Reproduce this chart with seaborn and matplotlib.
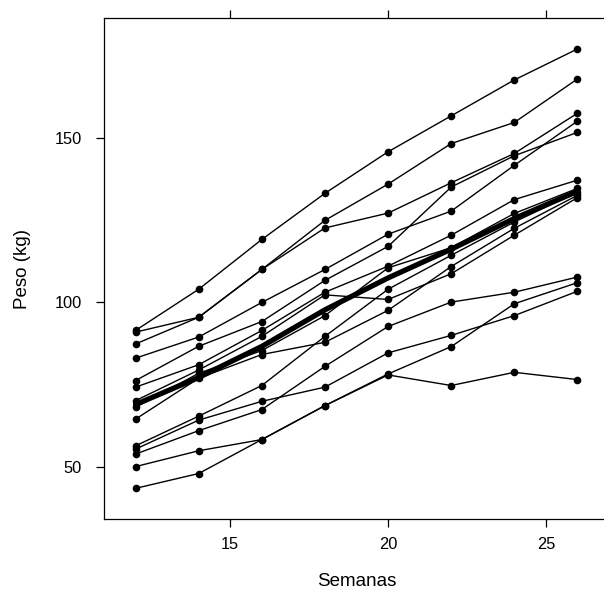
import pandas as pd
import seaborn as sns
import matplotlib.pyplot as plt

# --- data ---
semanas = [12, 14, 16, 18, 20, 22, 24, 26]

peso_1 = [91.5, 104.0, 119.1, 133.1, 145.7, 156.6, 167.5, 176.9]
peso_2 = [91.0, 95.5, 110.0, 124.9, 135.9, 148.2, 154.6, 167.8]
peso_3 = [87.4, 95.5, 110.0, 122.6, 127.1, 136.3, 145.2, 157.4]
peso_4 = [76.3, 86.7, 94.2, 106.7, 117.0, 135.0, 144.5, 151.6]
peso_5 = [83.1, 89.5, 100.0, 110.0, 120.7, 127.7, 141.6, 155.0]
peso_6 = [74.3, 81.1, 91.5, 103.1, 111.0, 120.4, 131.2, 137.1]
peso_7 = [70.2, 79.5, 89.7, 102.3, 100.9, 108.7, 120.4, 131.8]
peso_8 = [68.2, 78.5, 85.4, 96.0, 110.5, 116.6, 127.0, 134.6]
peso_9 = [64.6, 77.0, 84.2, 87.9, 97.6, 110.9, 122.5, 132.5]
peso_10 = [56.5, 65.5, 74.8, 89.7, 104.0, 114.3, 124.4, 133.5]
peso_11 = [55.5, 64.3, 70.0, 74.3, 84.7, 90.0, 96.0, 103.4]
peso_12 = [54.0, 61.1, 67.5, 80.6, 92.7, 100.1, 103.1, 107.7]
peso_13 = [50.2, 55.0, 58.4, 68.7, 78.3, 86.6, 99.6, 106.0]
peso_14 = [43.6, 48.1, 58.4, 68.7, 78.0, 74.8, 78.8, 76.6]

animais = [peso_1, peso_2, peso_3, peso_4, peso_5, peso_6, peso_7,
           peso_8, peso_9, peso_10, peso_11, peso_12, peso_13, peso_14]

x_ticks = [15, 20, 25]
y_ticks = [50, 100, 150]

# long table for seaborn
rows = []
for i, pesos in enumerate(animais):
    for s, p in zip(semanas, pesos):
        rows.append({'animal': i + 1, 'semana': s, 'peso': p})
df = pd.DataFrame(rows)

sns.set_theme(style='ticks')
plt.rcParams['font.family'] = ['Liberation Sans', 'DejaVu Sans']
plt.rcParams['text.color'] = 'black'
plt.rcParams['axes.labelcolor'] = 'black'

fig = plt.figure(figsize=(6.04, 5.98), dpi=100)
ax = fig.add_axes([104 / 604, 1 - 519 / 598, 505 / 604, 500.7 / 598])

# individual animals
sns.lineplot(data=df, x='semana', y='peso', units='animal', estimator=None,
             color='black', lw=1.0, marker='o', markersize=5.5,
             markeredgewidth=0, ax=ax)
# mean curve
sns.lineplot(data=df, x='semana', y='peso', estimator='mean', errorbar=None,
             color='black', lw=3.8, ax=ax)

ax.set_xlim(11, 27)
ax.set_ylim(34.3, 186.2)
ax.set_xticks(x_ticks)
ax.set_yticks(y_ticks)
ax.set_xlabel('Semanas', fontsize=13.5, labelpad=15)
ax.set_ylabel('Peso (kg)', fontsize=13.5, labelpad=17)

for side in ['top', 'bottom', 'left', 'right']:
    ax.spines[side].set_visible(True)
    ax.spines[side].set_color('black')
    ax.spines[side].set_linewidth(0.9)

ax.tick_params(axis='both', direction='out', length=6, width=0.9,
               color='black', labelsize=11.8, labelcolor='black')
ax.tick_params(axis='x', top=True, labeltop=False, pad=7)
ax.tick_params(axis='y', right=True, labelright=False, pad=10)

fig.savefig('out.png', dpi=100)
